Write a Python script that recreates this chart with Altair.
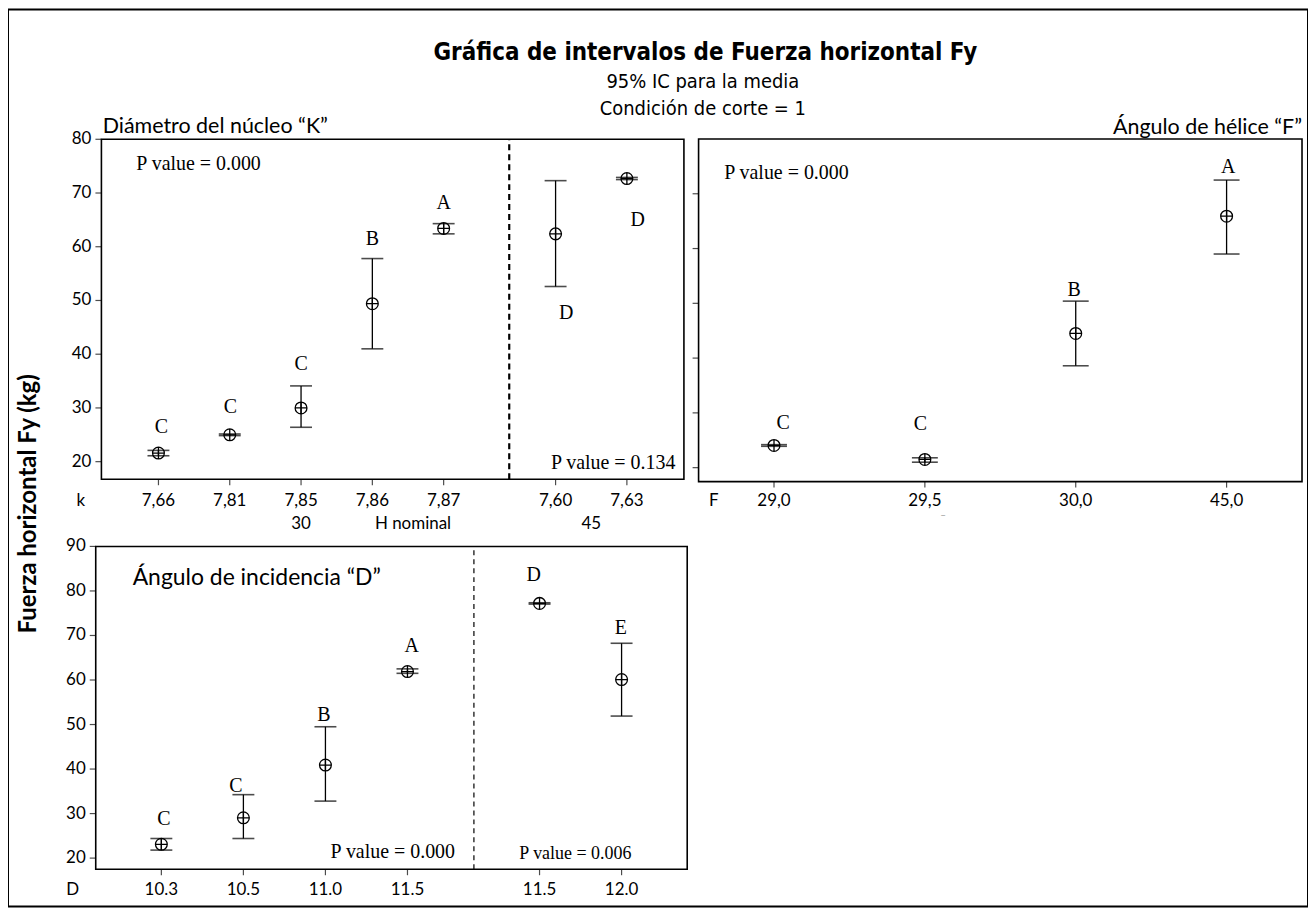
import altair as alt
import pandas as pd

# ---------------- data ----------------
# Panel 1: Diámetro del núcleo "K"  (H nominal 30 / 45)
k30_labels = ["7,66", "7,81", "7,85", "7,86", "7,87"]
k30_mean = [21.6, 25.0, 30.0, 49.4, 63.4]
k30_lo = [21.1, 24.85, 26.4, 41.0, 62.4]
k30_hi = [22.1, 25.15, 34.1, 57.8, 64.3]
k30_group = ["C", "C", "C", "B", "A"]
k30_group_y = [26.5, 30.1, 38.2, 61.4, 68.1]

k45_labels = ["7,60", "7,63"]
k45_mean = [62.4, 72.7]
k45_lo = [52.6, 72.5]
k45_hi = [72.3, 72.9]
k45_group = ["D", "D"]
k45_group_y = [47.6, 65.0]

# Panel 2: Ángulo de hélice "F"
f_labels = ["29,0", "29,5", "30,0", "45,0"]
f_mean = [24.05, 21.5, 44.5, 65.9]
f_lo = [23.9, 21.0, 38.6, 59.0]
f_hi = [24.2, 21.8, 50.4, 72.5]
f_group = ["C", "C", "B", "A"]
f_group_y = [28.1, 27.9, 52.5, 74.8]

# Panel 3: Ángulo de incidencia "D"
d1_labels = ["10.3", "10.5", "11.0", "11.5"]
d1_mean = [23.1, 29.05, 40.9, 61.9]
d1_lo = [21.8, 24.4, 32.8, 61.5]
d1_hi = [24.4, 34.25, 49.5, 62.5]
d1_group = ["C", "C", "B", "A"]
d1_group_y = [28.7, 36.3, 52.1, 67.7]

d2_labels = ["11.5", "12.0"]
d2_mean = [77.2, 60.1]
d2_lo = [77.05, 51.9]
d2_hi = [77.35, 68.25]
d2_group = ["D", "E"]
d2_group_y = [83.6, 71.6]

y_ticks_k = [20, 30, 40, 50, 60, 70, 80]
y_ticks_f = [20, 30, 40, 50, 60, 70]
y_ticks_d = [20, 30, 40, 50, 60, 70, 80, 90]

# ---------------- layout (pixels inside the single view) ----------------
W, H = 1304, 900
TL_X, TL_Y = [93.7, 678.0], [471.3, 130.3]
TR_X, TR_Y = [692.7, 1298.0], [473.7, 130.0]
B_X, B_Y = [88.0, 681.3], [862.5, 538.7]

# letter offsets as fraction of a category step
k_dx = [0.04, 0.01, 0.0, 0.0, 0.0, 0.15, 0.15]
f_dx = [0.06, -0.03, -0.01, 0.01]
d_dx = [0.03, -0.09, -0.02, 0.05, -0.07, -0.01]

LABEL_FONT = "Lato"
SERIF = "Liberation Serif"
TITLE_FONT = "DejaVu Sans Condensed"
TICK_FS = 17


def make_df(pos, labels, mean, lo, hi, group, group_y, dx):
    return pd.DataFrame({
        "pos": pos, "label": labels, "mean": mean, "lo": lo, "hi": hi,
        "group": group, "gy": group_y,
        "gx": [p + d for p, d in zip(pos, dx)],
    })


CROSS_CIRCLE = "M-1,0A1,1,0,1,1,1,0A1,1,0,1,1,-1,0ZM-1,0L1,0M0,-1L0,1"


def panel(df, xdom, xrange, ydom, yrange, yvals, ylabels, cap, lab_dy,
          extra_layers_fn):
    xs = alt.Scale(domain=xdom, range=xrange, nice=False, zero=False)
    ys = alt.Scale(domain=ydom, range=yrange, nice=False, zero=False)

    def X(f):
        return alt.X(f, scale=xs, axis=None)

    def Y(f):
        return alt.Y(f, scale=ys, axis=None)

    frame_df = pd.DataFrame({"x0": [xdom[0]], "x1": [xdom[1]],
                             "y0": [ydom[0]], "y1": [ydom[1]]})
    frame = alt.Chart(frame_df).mark_rect(
        fillOpacity=0, stroke="black", strokeWidth=1.6
    ).encode(x=X("x0:Q"), x2="x1:Q", y=Y("y0:Q"), y2="y1:Q")

    # x axis: ticks + labels drawn through the panel scales
    xt_df = df[["pos", "label"]].assign(base=ydom[0])
    xticks = alt.Chart(xt_df).mark_tick(
        orient="vertical", size=6, thickness=1.2, color="black", yOffset=3
    ).encode(x=X("pos:Q"), y=Y("base:Q"))
    xlabels = alt.Chart(xt_df).mark_text(
        font=LABEL_FONT, fontSize=TICK_FS, color="black",
        baseline="alphabetic", dy=lab_dy
    ).encode(x=X("pos:Q"), y=Y("base:Q"), text="label:N")

    # y axis
    yt_df = pd.DataFrame({"v": yvals, "t": [str(v) for v in yvals],
                          "base": [xdom[0]] * len(yvals)})
    yticks = alt.Chart(yt_df).mark_tick(
        orient="horizontal", size=6, thickness=1.2, color="black", xOffset=-3
    ).encode(x=X("base:Q"), y=Y("v:Q"))
    layers = [frame, xticks, xlabels, yticks]
    if ylabels:
        ylab = alt.Chart(yt_df).mark_text(
            font=LABEL_FONT, fontSize=TICK_FS, color="black", align="right",
            baseline="middle", dx=-10
        ).encode(x=X("base:Q"), y=Y("v:Q"), text="t:N")
        layers.append(ylab)

    base = alt.Chart(df)
    rules = base.mark_rule(color="black", strokeWidth=1.3).encode(
        x=X("pos:Q"), y=Y("lo:Q"), y2="hi:Q")
    cap_lo = base.mark_tick(orient="horizontal", size=cap, thickness=1.6,
                            color="black").encode(x=X("pos:Q"), y=Y("lo:Q"))
    cap_hi = base.mark_tick(orient="horizontal", size=cap, thickness=1.6,
                            color="black").encode(x=X("pos:Q"), y=Y("hi:Q"))
    pts = base.mark_point(shape=CROSS_CIRCLE, size=140, filled=False,
                          color="black", strokeWidth=1.3, opacity=1).encode(
        x=X("pos:Q"), y=Y("mean:Q"))
    letters = base.mark_text(font=SERIF, fontSize=20, color="black",
                             baseline="middle").encode(
        x=X("gx:Q"), y=Y("gy:Q"), text="group:N")
    layers += [rules, cap_lo, cap_hi, pts, letters]
    layers += extra_layers_fn(X, Y)
    return alt.layer(*layers)


def text_at(X, Y, x, y, text, align, font=SERIF, size=20, weight="normal"):
    df = pd.DataFrame({"x": [x], "y": [y], "t": [text]})
    return alt.Chart(df).mark_text(align=align, baseline="middle", font=font,
                                   fontSize=size, fontWeight=weight,
                                   color="black").encode(
        x=X("x:Q"), y=Y("y:Q"), text="t:N")


# ---------- panel 1 ----------
k_gap, k_div = 1.57, 0.92
k_pos = [float(i) for i in range(len(k30_labels))]
k_pos45 = [k_pos[-1] + k_gap + i for i in range(len(k45_labels))]
k_df = make_df(k_pos + k_pos45, k30_labels + k45_labels, k30_mean + k45_mean,
               k30_lo + k45_lo, k30_hi + k45_hi, k30_group + k45_group,
               k30_group_y + k45_group_y, k_dx)
k_xdom = [-0.8, k_pos45[-1] + 0.8]
k_ydom = [16.73, 80]


def k_extras(X, Y):
    div_df = pd.DataFrame({"x": [k_pos[-1] + k_div], "y0": [k_ydom[0]],
                           "y1": [k_ydom[1]]})
    div = alt.Chart(div_df).mark_rule(color="black", strokeWidth=2.2,
                                      strokeDash=[6, 4]).encode(
        x=X("x:Q"), y=Y("y0:Q"), y2="y1:Q")
    grp_df = pd.DataFrame({
        "x": [k_pos[2], 3.57, (k_pos45[0] + k_pos45[1]) / 2],
        "t": ["30", "H nominal", "45"]})
    grp = alt.Chart(grp_df).mark_text(font=LABEL_FONT, fontSize=TICK_FS,
                                      color="black", baseline="alphabetic").encode(
        x=X("x:Q"), y=alt.value(521), text="t:N")
    return [div,
            text_at(X, Y, -0.31, 75.4, "P value = 0.000", "left"),
            text_at(X, Y, 7.25, 19.8, "P value = 0.134", "right"),
            grp]


p1 = panel(k_df, k_xdom, TL_X, k_ydom, TL_Y, y_ticks_k, True, 22, 26.5,
           k_extras)

# ---------- panel 2 ----------
f_pos = [float(i) for i in range(len(f_labels))]
f_df = make_df(f_pos, f_labels, f_mean, f_lo, f_hi, f_group, f_group_y, f_dx)
f_xdom = [-0.5, f_pos[-1] + 0.5]
f_ydom = [17.45, 80]


def f_extras(X, Y):
    return [text_at(X, Y, -0.33, 73.7, "P value = 0.000", "left")]


p2 = panel(f_df, f_xdom, TR_X, f_ydom, TR_Y, y_ticks_f, False, 26, 24.5,
           f_extras)

# ---------- panel 3 ----------
d_gap, d_div = 1.61, 0.81
d_pos = [float(i) for i in range(len(d1_labels))]
d_pos2 = [d_pos[-1] + d_gap + i for i in range(len(d2_labels))]
d_df = make_df(d_pos + d_pos2, d1_labels + d2_labels, d1_mean + d2_mean,
               d1_lo + d2_lo, d1_hi + d2_hi, d1_group + d2_group,
               d1_group_y + d2_group_y, d_dx)
d_xdom = [-0.8, d_pos2[-1] + 0.8]
d_ydom = [17.5, 90]


def d_extras(X, Y):
    div_df = pd.DataFrame({"x": [d_pos[-1] + d_div], "y0": [d_ydom[0]],
                           "y1": [d_ydom[1]]})
    div = alt.Chart(div_df).mark_rule(color="black", strokeWidth=1.2,
                                      strokeDash=[5, 4]).encode(
        x=X("x:Q"), y=Y("y0:Q"), y2="y1:Q")
    return [div,
            text_at(X, Y, -0.35, 82.8, "Ángulo de incidencia \u201cD\u201d",
                    "left", font=LABEL_FONT, size=23),
            text_at(X, Y, 3.58, 21.4, "P value = 0.000", "right"),
            text_at(X, Y, 5.73, 21.0, "P value = 0.006", "right", size=18)]


p3 = panel(d_df, d_xdom, B_X, d_ydom, B_Y, y_ticks_d, True, 22, 26,
           d_extras)


# ---------- free annotations (pixel placed) ----------
def note(text, x, y, align="center", font=LABEL_FONT, size=17,
         weight="normal", angle=0, baseline="alphabetic", color="black"):
    df = pd.DataFrame({"t": [text]})
    return alt.Chart(df).mark_text(align=align, baseline=baseline, font=font,
                                   fontSize=size, fontWeight=weight,
                                   angle=angle, color=color).encode(
        x=alt.value(x), y=alt.value(y), text="t:N")


notes = [
    note("Gráfica de intervalos de Fuerza horizontal Fy", 699.5, 50.3,
         font=TITLE_FONT, size=24, weight="bold"),
    note("95% IC para la media", 697, 78.7, font=TITLE_FONT, size=20),
    note("Condición de corte = 1", 697, 106.3, font=TITLE_FONT, size=20),
    note("Diámetro del núcleo \u201cK\u201d", 95, 123.7, align="left", size=21.5),
    note("Ángulo de hélice \u201cF\u201d", 1298, 125, align="right", size=21.5),
    note("Fuerza horizontal Fy (kg)", 28.5, 496, weight="bold", size=24,
         angle=270),
    note("k", 73, 498),
    note("F", 708, 498),
    note("D", 65, 888),
    note("\u2013", 938, 510, size=10, color="#999999"),
]

chart = alt.layer(p1, p2, p3, *notes).resolve_scale(
    x="independent", y="independent"
).properties(
    width=W, height=H, padding=0,
    autosize=alt.AutoSizeParams(type="none"),
).configure_view(stroke="black", strokeWidth=2)

chart.save("out.html", embed_options={"renderer": "svg", "actions": False})
